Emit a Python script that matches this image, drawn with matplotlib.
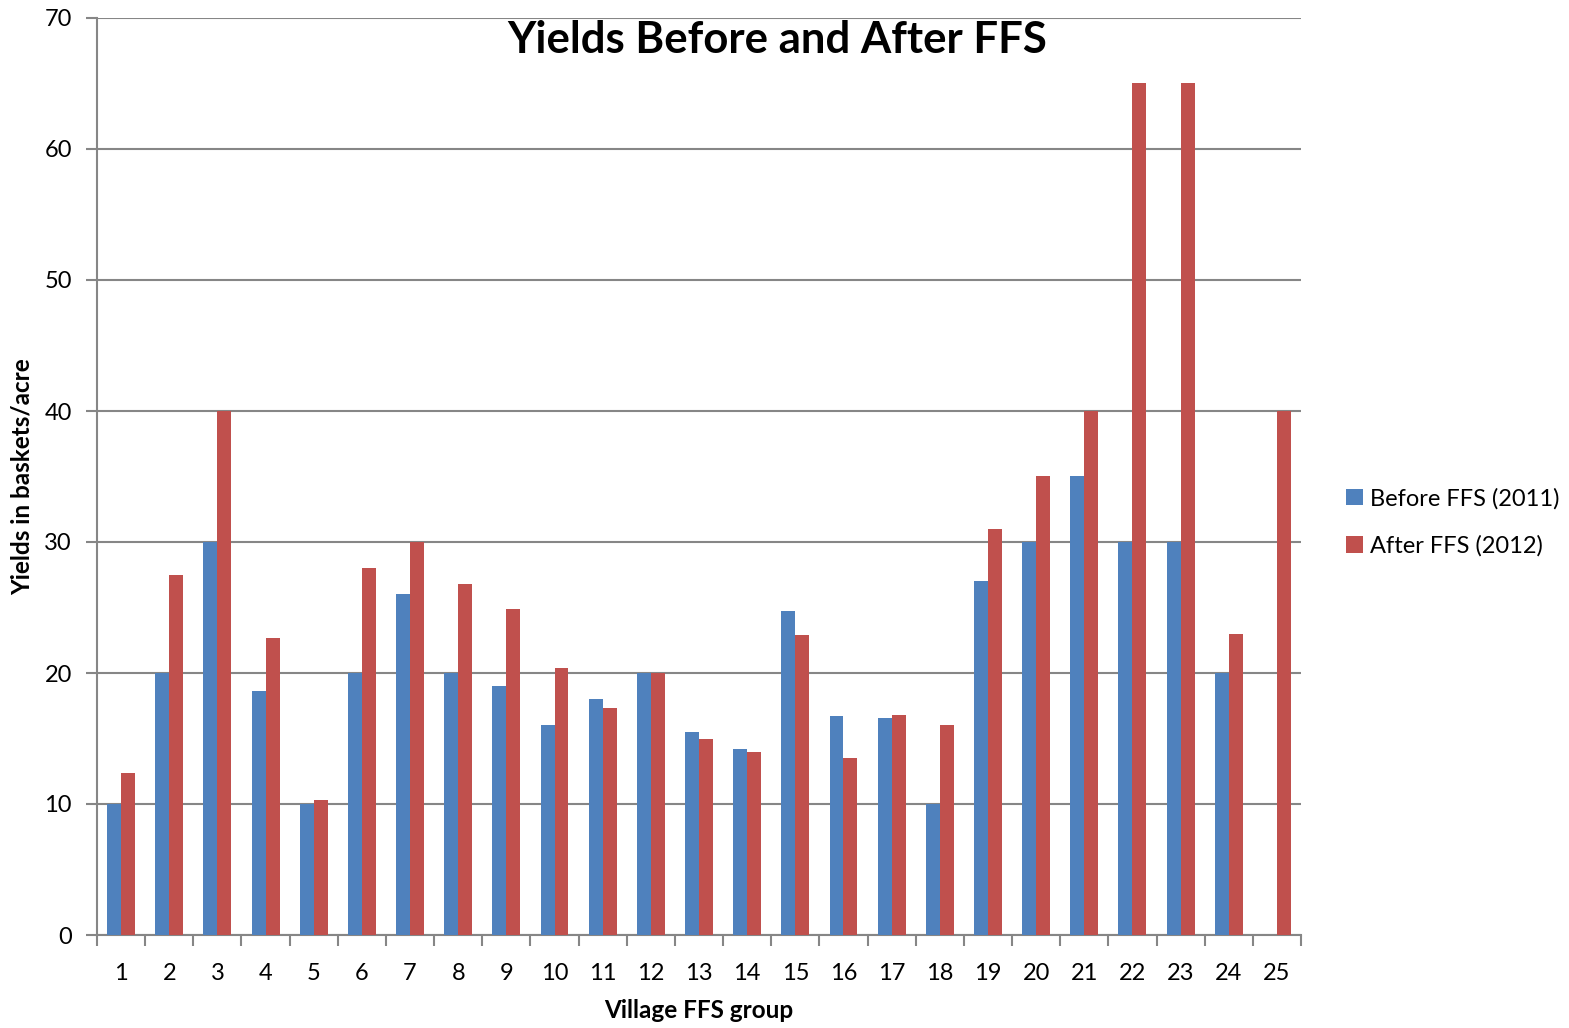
import numpy as np
import matplotlib.pyplot as plt

groups = [str(i) for i in range(1, 26)]
before_2011 = [10, 20, 30, 18.6, 10, 20, 26, 20, 19, 16, 18, 20, 15.5, 14.2, 24.7,
               16.7, 16.6, 10, 27, 30, 35, 30, 30, 20, np.nan]
after_2012 = [12.4, 27.5, 40, 22.7, 10.3, 28, 30, 26.8, 24.9, 20.4, 17.3, 20, 15, 14, 22.9,
              13.5, 16.8, 16, 31, 35, 40, 65, 65, 23, 40]

plt.rcParams['font.family'] = ['Lato', 'DejaVu Sans']

fig = plt.figure(figsize=(15.69, 10.28), dpi=100)
ax = fig.add_axes([97 / 1569, 1 - 935 / 1028, (1301 - 97) / 1569, (935 - 18) / 1028])

x = np.arange(len(groups))
w = 0.29
ax.bar(x - w / 2, before_2011, w, color='#4F81BD', label='Before FFS (2011)', zorder=3)
ax.bar(x + w / 2, after_2012, w, color='#C0504D', label='After FFS (2012)', zorder=3)

ax.set_xlim(-0.5, len(groups) - 0.5)
ax.set_ylim(0, 70)
ax.set_yticks(range(0, 71, 10))
ax.set_xticks(x)
ax.set_xticklabels(groups)
ax.set_xticks(np.arange(-0.5, len(groups), 1), minor=True)
ax.tick_params(axis='x', which='major', length=0, pad=20, labelsize=17)
ax.tick_params(axis='x', which='minor', length=8, width=1.5, color='#868686', direction='out')
ax.tick_params(axis='y', length=8, width=1.5, color='#868686', labelsize=17, pad=10)

ax.grid(axis='y', color='#868686', linewidth=1.5, zorder=0)
for s in ['top', 'right']:
    ax.spines[s].set_visible(False)
for s in ['left', 'bottom']:
    ax.spines[s].set_color('#868686')
    ax.spines[s].set_linewidth(1.5)

ax.set_xlabel('Village FFS group', fontsize=17.5, fontweight='bold')
ax.set_ylabel('Yields in baskets/acre', fontsize=17.5, fontweight='bold')
ax.xaxis.set_label_coords(0.5, -0.0818)
ax.yaxis.set_label_coords(-0.0623, 0.5)
ax.xaxis.label.set_va('center')
ax.yaxis.label.set_va('center')
fig.text(777 / 1569, 1 - 40 / 1028, 'Yields Before and After FFS', fontsize=31.5,
         fontweight='bold', ha='center', va='center')

ax.legend(loc='center left', bbox_to_anchor=(1.02, 0.45), frameon=False, fontsize=17,
          handlelength=0.7, handleheight=0.7, handletextpad=0.3, labelspacing=1.1)

fig.savefig('out.png', dpi=100)
